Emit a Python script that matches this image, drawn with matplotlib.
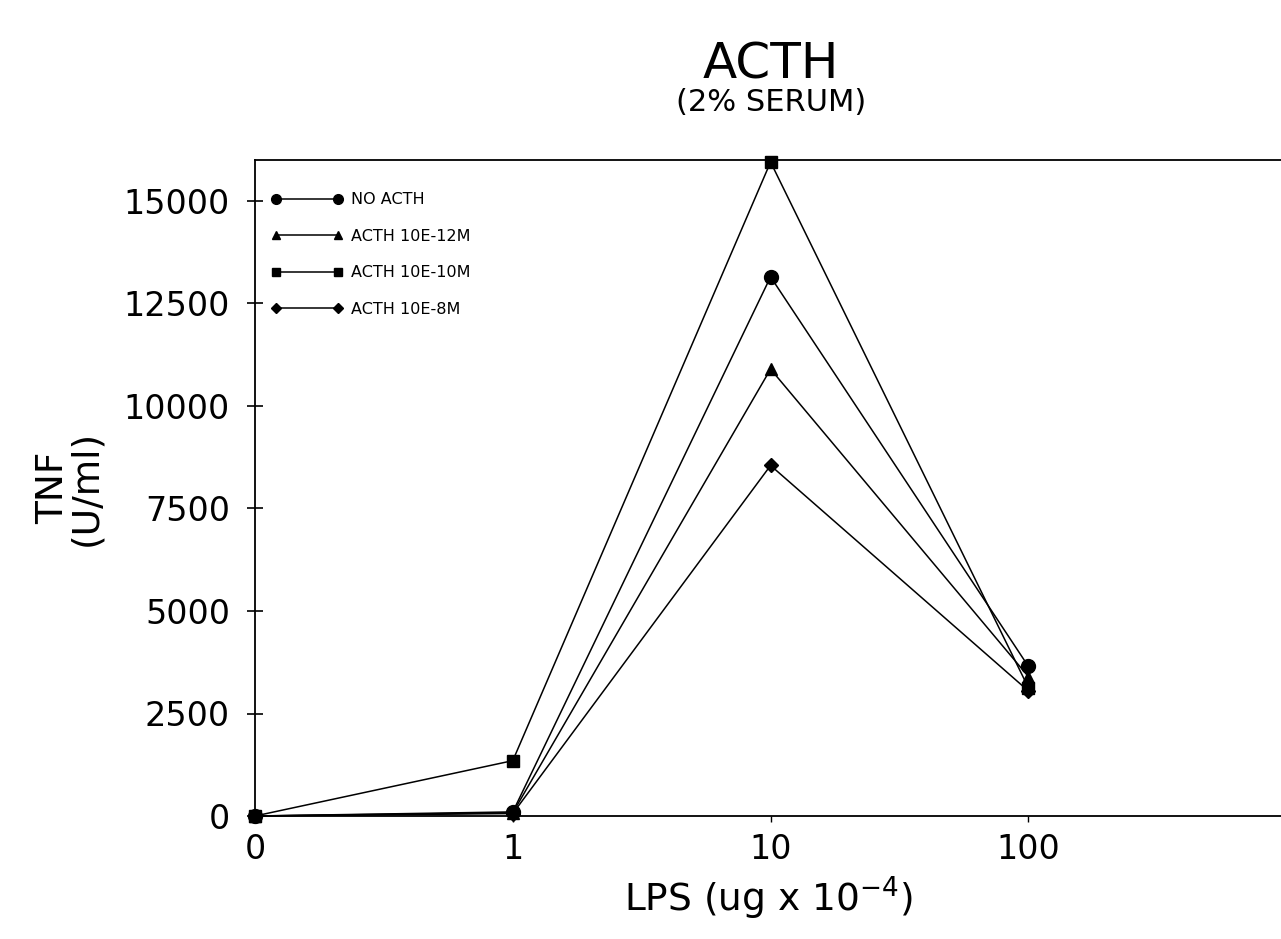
import numpy as np
import matplotlib
matplotlib.use("Agg")
import matplotlib.pyplot as plt

plt.rcParams['font.family'] = "DejaVu Sans"

# LPS dose categories (evenly spaced on the axis)
lps_labels = ["0", "1", "10", "100"]
# TNF (U/ml)
no_acth = [0, 100, 13150, 3650]
acth_12 = [0, 80, 10900, 3400]
acth_10 = [0, 1350, 15950, 3130]
acth_8 = [0, 60, 8550, 3050]

series_labels = ["NO ACTH", "ACTH 10E-12M", "ACTH 10E-10M", "ACTH 10E-8M"]
markers = ["o", "^", "s", "D"]
msizes = [10, 9, 9, 7]

fig = plt.figure(figsize=(12.81, 9.39), dpi=100)
ax = fig.add_axes([255/1281, 1-816/939, 1-255/1281, (816-160)/939])

xpos = np.arange(len(lps_labels))
for vals, lab, mk, ms in zip([no_acth, acth_12, acth_10, acth_8], series_labels, markers, msizes):
    ax.plot(xpos, vals, color="black", lw=1.1, marker=mk, ms=ms, label=lab, clip_on=False, zorder=3)

ax.set_xlim(0, 3.98)
ax.set_ylim(0, 16000)
ax.set_xticks(xpos)
ax.set_xticklabels(lps_labels)
ax.set_yticks(np.arange(0, 15001, 2500))
ax.tick_params(axis="y", direction="inout", length=12, width=1.2, pad=12, labelsize=24)
ax.tick_params(axis="x", direction="out", length=4, width=1.0, pad=8, labelsize=24)
ax.spines["right"].set_visible(False)
for s in ["left", "top", "bottom"]:
    ax.spines[s].set_linewidth(1.3)

ax.set_xlabel("LPS (ug x 10$^{-4}$)", fontsize=27, labelpad=6)
ax.set_ylabel("TNF\n(U/ml)", fontsize=27, labelpad=14, linespacing=0.9)

fig.text(0.602, 0.931, "ACTH", fontsize=36, ha="center", va="center")
fig.text(0.602, 0.891, "(2% SERUM)", fontsize=22, ha="center", va="center")

leg = ax.legend(loc="upper left", bbox_to_anchor=(0.0, 0.975), frameon=False, numpoints=2,
                handlelength=4.5, fontsize=11.5, markerscale=0.7, labelspacing=1.35,
                handletextpad=0.5, borderaxespad=0.6)

fig.savefig("out.png", dpi=100)
